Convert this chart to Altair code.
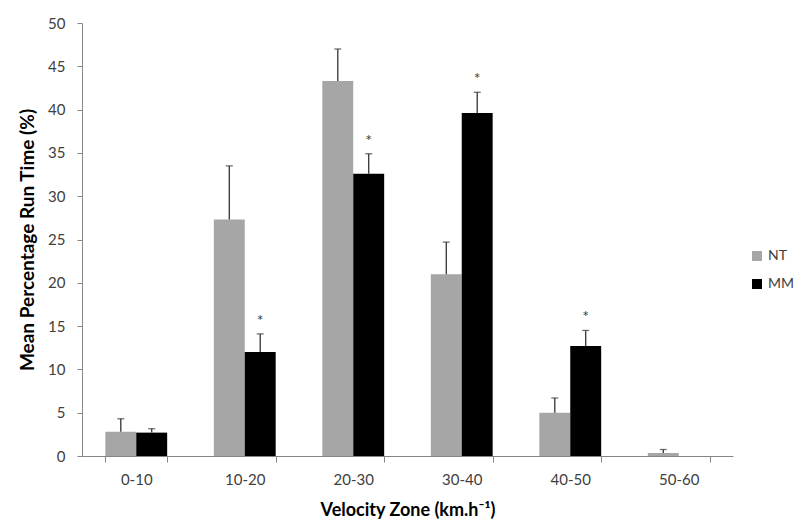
import altair as alt
import pandas as pd

zones = ["0-10", "10-20", "20-30", "30-40", "40-50", "50-60"]
nt_mean = [2.8, 27.3, 43.3, 21.0, 5.0, 0.35]
nt_sd = [1.5, 6.2, 3.7, 3.7, 1.7, 0.4]
mm_mean = [2.7, 12.0, 32.6, 39.6, 12.7, 0.0]
mm_sd = [0.45, 2.1, 2.3, 2.4, 1.8, 0.0]
mm_sig = [False, True, True, True, True, False]
groups = ["NT", "MM"]

rows = []
for i, z in enumerate(zones):
    rows.append({"zone": z, "group": "NT", "mean": nt_mean[i], "top": nt_mean[i] + nt_sd[i],
                 "sd": nt_sd[i], "sig": False})
    rows.append({"zone": z, "group": "MM", "mean": mm_mean[i], "top": mm_mean[i] + mm_sd[i],
                 "sd": mm_sd[i], "sig": mm_sig[i]})
df = pd.DataFrame(rows)
df["star_y"] = df["top"] + 1.5

FONT = "Lato"

x = alt.X("zone:N", sort=zones,
          scale=alt.Scale(paddingInner=0.43, paddingOuter=0.215),
          axis=alt.Axis(title="Velocity Zone (km.h⁻¹)", labelAngle=0, tickBand="extent",
                        labelFontSize=15, labelColor="#404040", labelFont=FONT,
                        labelPadding=10, tickSize=6, tickColor="#868686",
                        domainColor="#868686", titleFontSize=18, titleFont=FONT,
                        titleFontWeight="bold", titleColor="#000000", titlePadding=14))
xo = alt.XOffset("group:N", sort=groups)
y_scale = alt.Scale(domain=[0, 50])

bars = alt.Chart(df).mark_bar().encode(
    x=x, xOffset=xo,
    y=alt.Y("mean:Q", scale=y_scale,
            axis=alt.Axis(title="Mean Percentage Run Time (%)", values=list(range(0, 51, 5)),
                          grid=False, labelFontSize=15, labelColor="#404040", labelFont=FONT,
                          tickSize=5, tickColor="#868686", domainColor="#868686",
                          labelPadding=12, titleFontSize=19, titleFont=FONT,
                          titleFontWeight="bold", titleColor="#000000", titlePadding=10)),
    color=alt.Color("group:N", sort=groups,
                    scale=alt.Scale(domain=groups, range=["#a6a6a6", "#000000"]),
                    legend=alt.Legend(title=None, orient="none", legendX=668, legendY=226,
                                      symbolType="square", symbolSize=100,
                                      symbolStrokeWidth=0, labelFontSize=14,
                                      labelFont=FONT, labelColor="#404040",
                                      rowPadding=14, labelOffset=4)),
)

err_df = df[df["sd"] > 0]
rules = alt.Chart(err_df).mark_rule(color="#333333", strokeWidth=1.3).encode(
    x=x, xOffset=xo, y=alt.Y("mean:Q", scale=y_scale), y2="top:Q")
caps = alt.Chart(err_df).mark_tick(color="#333333", thickness=1.3, size=7, orient="horizontal").encode(
    x=x, xOffset=xo, y=alt.Y("top:Q", scale=y_scale))
stars = alt.Chart(df[df["sig"]]).mark_text(text="*", fontSize=16, color="#404040",
                                           baseline="middle", font=FONT).encode(
    x=x, xOffset=xo, y=alt.Y("star_y:Q", scale=y_scale))

chart = alt.layer(bars, rules, caps, stars).properties(
    width=651, height=433,
    autosize=alt.AutoSizeParams(type="none"),
    padding={"left": 74, "top": 15, "right": 66, "bottom": 63},
    background="white",
).configure_view(stroke=None)

chart.save("out.html", embed_options={"renderer": "svg", "actions": False})
